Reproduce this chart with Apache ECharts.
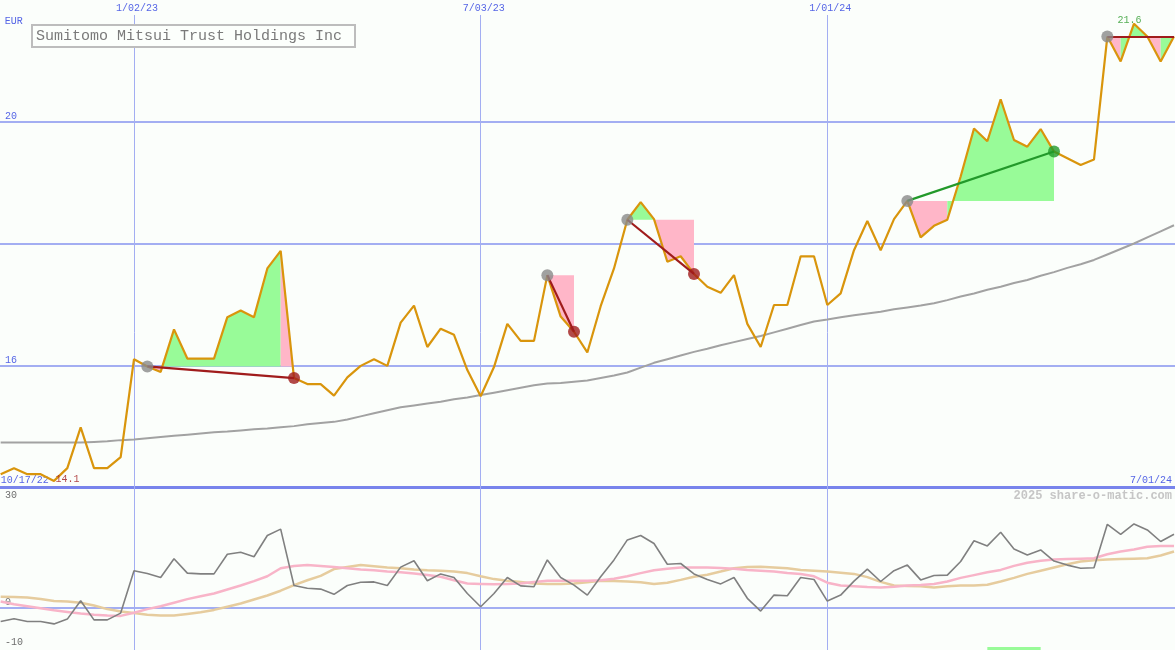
<!DOCTYPE html>
<html><head><meta charset="utf-8">
<script src="https://cdn.jsdelivr.net/npm/echarts@6/dist/echarts.min.js"></script>
<style>html,body{margin:0;padding:0;background:#fbfefb}#c{width:1175px;height:650px}</style>
</head><body><div id="c"></div>
<script>
// ---------- data (weekly points, index 0 = first week) ----------
const chartTitle = 'Sumitomo Mitsui Trust Holdings Inc';
const currency = 'EUR';
const watermark = '2025 share-o-matic.com';

const price = [14.21,14.31,14.21,14.21,14.10,14.31,14.98,14.31,14.31,14.49,
 16.10,15.98,15.89,16.59,16.11,16.11,16.11,16.79,16.90,16.79,
 17.59,17.88,15.79,15.69,15.69,15.50,15.80,15.99,16.10,15.99,
 16.70,16.98,16.30,16.60,16.50,15.92,15.49,15.97,16.68,16.40,
 16.40,17.48,16.80,16.55,16.21,16.97,17.59,18.39,18.68,18.40,
 17.70,17.79,17.50,17.29,17.19,17.48,16.68,16.30,16.99,16.99,
 17.79,17.79,16.99,17.18,17.89,18.37,17.89,18.40,18.70,18.10,
 18.29,18.39,19.10,19.89,19.68,20.37,19.70,19.59,19.88,19.51,
 19.40,19.29,19.38,21.40,20.99,21.61,21.40,20.99,21.40];

const priceMA = [14.73,14.73,14.73,14.73,14.73,14.73,14.73,14.74,14.75,14.77,
 14.78,14.80,14.82,14.84,14.86,14.88,14.90,14.91,14.93,14.95,
 14.96,14.98,15.00,15.03,15.05,15.07,15.11,15.16,15.21,15.26,
 15.31,15.34,15.37,15.40,15.44,15.47,15.51,15.55,15.59,15.63,
 15.67,15.70,15.71,15.73,15.75,15.79,15.83,15.88,15.96,16.04,
 16.10,16.16,16.22,16.27,16.33,16.38,16.43,16.48,16.54,16.60,
 16.66,16.72,16.75,16.79,16.82,16.85,16.88,16.92,16.95,16.98,
 17.02,17.07,17.13,17.18,17.24,17.29,17.35,17.40,17.47,17.53,
 17.60,17.66,17.73,17.82,17.91,18.00,18.10,18.20,18.30];

const osc = [-3.5,-2.8,-3.5,-3.5,-4.1,-2.9,1.7,-3.1,-3.1,-1.4,
 9.2,8.5,7.5,12.2,8.6,8.4,8.4,13.3,13.8,12.7,
 18.0,19.6,5.5,4.8,4.6,3.3,5.5,6.3,6.4,5.5,
 10.1,11.7,6.7,8.4,7.5,3.5,0.2,3.5,7.5,5.4,
 5.2,11.9,7.5,5.6,3.1,7.7,11.9,16.9,18.0,16.0,
 10.8,11.0,8.4,7.0,5.9,7.5,2.3,-0.9,3.1,2.95,
 7.5,7.0,1.6,3.1,6.6,9.6,6.5,9.2,10.6,6.9,
 8.0,8.1,11.5,16.7,15.4,18.8,14.6,13.1,14.4,11.6,
 10.6,9.8,9.95,20.8,18.3,20.9,19.4,16.5,18.3];

const oscPink = [1.5,0.8,0.3,-0.2,-0.7,-1.1,-1.5,-1.8,-2.0,-2.1,
 -1.3,-0.4,0.3,1.2,2.1,2.8,3.5,4.5,5.5,6.6,
 7.8,9.8,10.4,10.6,10.4,10.1,9.8,9.5,9.3,9.0,
 8.8,8.5,8.1,7.7,6.8,6.0,5.9,5.8,5.9,6.0,
 6.4,6.7,6.7,6.7,6.7,6.8,7.2,7.8,8.6,9.3,
 9.7,10.0,10.0,10.0,9.9,9.7,9.4,9.2,9.0,8.6,
 8.4,7.8,6.2,5.5,5.3,5.1,5.0,5.2,5.5,5.6,
 5.9,6.5,7.4,8.1,8.8,9.4,10.4,11.2,11.7,12.0,
 12.1,12.2,12.3,13.3,14.0,14.5,15.2,15.4,15.4];

const oscTan = [2.7,2.6,2.5,2.1,1.6,1.5,1.2,0.5,-0.4,-1.0,
 -1.4,-1.8,-2.0,-2.0,-1.6,-1.2,-0.6,0.2,1.0,2.0,
 3.0,4.2,5.6,6.8,7.9,9.6,10.1,10.6,10.3,10.0,
 9.8,9.5,9.3,9.2,9.0,8.6,7.8,7.1,6.7,6.4,
 6.0,5.9,5.9,6.0,6.3,6.7,6.6,6.5,6.3,5.9,
 6.2,6.9,7.7,8.2,9.0,9.8,10.1,10.2,10.0,9.8,
 9.4,9.2,9.0,8.7,8.4,7.6,6.4,5.5,5.4,5.3,
 5.0,5.3,5.5,5.5,5.7,6.5,7.4,8.4,9.2,10.0,
 10.8,11.5,11.8,12.0,12.1,12.2,12.3,13.0,14.0];

// trading signals: start / end week index
const sigStart = [11, 41, 47, 68, 83];
const sigEnd   = [22, 43, 52, 79, 88];

// axis ticks
const topTickIdx = [10, 36, 62];
const topTickLabels = ['1/02/23', '7/03/23', '1/01/24'];
const edgeTickIdx = [0, 88];
const edgeTickLabels = ['10/17/22', '7/01/24'];
const priceGridVals = [16, 18, 20];
const priceLabelVals = [16, 20];
const oscGridVals = [0];
const oscLabelsLow = [0, -10];
const oscLabelsHigh = [30];
const greenBar = [74, 78, -9.9];

// ---------- styling ----------
const FONT = 'Liberation Mono';
const BLUE_TXT = '#5565e6';
const GRID_C = '#a3aef2';
const PALE_GREEN = '#98fb98';
const PINK = '#ffb6c8';
const RED_D = '#a01c1c';
const GREEN_D = '#22992a';
const last = price.length - 1;
const X_MIN = -0.05, X_MAX = last + 0.075;
const P_MIN = 14, P_MAX = 22;
const O_MIN = -10.625, O_MAX = 30;

// shaded runs between price and signal start level (consecutive segments of same colour merged)
const shadeRuns = [];
sigStart.forEach((s, k) => {
  const e = sigEnd[k], lv = price[s];
  let runStart = s, runUp = price[s + 1] >= lv ? 1 : 0;
  for (let i = s; i < e; i++) {
    const up = price[i + 1] >= lv ? 1 : 0;
    if (up !== runUp) { shadeRuns.push([runStart, i, lv, runUp]); runStart = i; runUp = up; }
  }
  shadeRuns.push([runStart, e, lv, runUp]);
});

let iMin = 0, iMax = 0;
price.forEach((v, i) => { if (v < price[iMin]) iMin = i; if (v > price[iMax]) iMax = i; });

const xBase = { type: 'value', min: X_MIN, max: X_MAX, axisTick: { show: false }, splitLine: { show: false } };
const labelFont = { fontFamily: FONT, fontSize: 10 };

const option = {
  animation: false,
  backgroundColor: '#fbfefb',
  title: [
    { text: chartTitle, left: 32, top: 25, padding: [4, 13, 3, 4], borderColor: '#bdbdbd', borderWidth: 2,
      backgroundColor: '#fcfffc',
      textStyle: { fontFamily: FONT, fontSize: 15, fontWeight: 'normal', color: '#7a7a7a' } },
    { text: watermark, right: 3, top: 490, padding: 0,
      textStyle: { fontFamily: FONT, fontSize: 12, fontWeight: 'bold', color: '#c6c6c6' } }
  ],
  grid: [
    { left: 0, right: 0, top: 0, height: 487, outerBoundsMode: 'none' },
    { left: 0, right: 0, top: 487.5, height: 162.5, outerBoundsMode: 'none' },
    { left: 0, right: 0, top: 15, bottom: 0, outerBoundsMode: 'none' }
  ],
  xAxis: [
    Object.assign({}, xBase, { gridIndex: 0, position: 'bottom',
      axisLine: { show: true, lineStyle: { color: '#7884ec', width: 3 } },
      axisLabel: Object.assign({ show: true, inside: true, customValues: [edgeTickIdx[0]], margin: 2,
        align: 'left', verticalAlign: 'bottom', color: BLUE_TXT,
        formatter: () => edgeTickLabels[0] }, labelFont) }),
    Object.assign({}, xBase, { gridIndex: 0, position: 'bottom', axisLine: { show: false },
      axisLabel: Object.assign({ show: true, inside: true, customValues: [edgeTickIdx[1]], margin: 2,
        align: 'right', verticalAlign: 'bottom', color: BLUE_TXT, padding: [0, 2, 0, 0],
        formatter: () => edgeTickLabels[1] }, labelFont) }),
    Object.assign({}, xBase, { gridIndex: 0, position: 'top', axisLine: { show: false },
      axisLabel: Object.assign({ show: true, inside: true, customValues: topTickIdx, margin: 3,
        align: 'center', verticalAlign: 'top', color: BLUE_TXT, padding: [0, 0, 0, 6],
        formatter: (v) => topTickLabels[topTickIdx.indexOf(Math.round(v))] }, labelFont) }),
    Object.assign({}, xBase, { gridIndex: 1, axisLine: { show: false }, axisLabel: { show: false } }),
    Object.assign({}, xBase, { gridIndex: 2, axisLine: { show: false }, axisLabel: { show: false } })
  ],
  yAxis: [
    { type: 'value', gridIndex: 0, min: P_MIN, max: P_MAX, position: 'left',
      axisLine: { show: false }, axisTick: { show: false }, splitLine: { show: false },
      name: currency, nameLocation: 'end', nameGap: -21,
      nameTextStyle: { fontFamily: FONT, fontSize: 10, color: BLUE_TXT, align: 'left', verticalAlign: 'middle', padding: [0, 0, 0, 4] },
      axisLabel: Object.assign({ inside: true, customValues: priceLabelVals, margin: 5, align: 'left',
        verticalAlign: 'bottom', color: BLUE_TXT }, labelFont) },
    { type: 'value', gridIndex: 1, min: O_MIN, max: O_MAX, position: 'left',
      axisLine: { show: false }, axisTick: { show: false }, splitLine: { show: false },
      axisLabel: Object.assign({ inside: true, customValues: oscLabelsLow, margin: 5, align: 'left',
        verticalAlign: 'bottom', color: '#6e6e6e' }, labelFont) },
    { type: 'value', gridIndex: 1, min: O_MIN, max: O_MAX, position: 'left', offset: 0,
      axisLine: { show: false }, axisTick: { show: false }, splitLine: { show: false },
      axisLabel: Object.assign({ inside: true, customValues: oscLabelsHigh, margin: 5, align: 'left',
        verticalAlign: 'top', padding: [3, 0, 0, 0], color: '#6e6e6e' }, labelFont) },
    { type: 'value', gridIndex: 2, min: 0, max: 1, show: false }
  ],
  series: [
    // horizontal grid lines (price panel)
    { type: 'line', xAxisIndex: 0, yAxisIndex: 0, data: [], silent: true, z: 1,
      markLine: { z: 1, silent: true, symbol: 'none', label: { show: false }, animation: false,
        lineStyle: { color: GRID_C, width: 2, type: 'solid' },
        data: priceGridVals.map(v => ({ yAxis: v })) } },
    // horizontal zero line (oscillator panel) + green marker bar
    { type: 'line', xAxisIndex: 3, yAxisIndex: 1, data: [], silent: true, z: 1,
      markLine: { z: 1, silent: true, symbol: 'none', label: { show: false }, animation: false,
        lineStyle: { color: GRID_C, width: 2, type: 'solid' },
        data: oscGridVals.map(v => ({ yAxis: v })) },
      markArea: { z: 1, silent: true, itemStyle: { color: PALE_GREEN },
        data: [[{ xAxis: greenBar[0], yAxis: O_MIN }, { xAxis: greenBar[1], yAxis: greenBar[2] }]] } },
    // vertical date lines across both panels
    { type: 'line', xAxisIndex: 4, yAxisIndex: 3, data: [], silent: true, z: 1,
      markLine: { z: 1, silent: true, symbol: 'none', label: { show: false }, animation: false,
        lineStyle: { color: GRID_C, width: 1, type: 'solid' },
        data: topTickIdx.map(v => ({ xAxis: v })) } },
    // shaded signal areas
    { type: 'custom', xAxisIndex: 0, yAxisIndex: 0, z: 2, silent: true,
      data: shadeRuns, encode: { x: [0, 1], y: 2 },
      renderItem: (params, api) => {
        const a = api.value(0), b = api.value(1), lv = api.value(2), up = api.value(3);
        const pts = [api.coord([a, lv])];
        for (let j = a; j <= b; j++) pts.push(api.coord([j, price[j]]));
        pts.push(api.coord([b, lv]));
        return { type: 'polygon', shape: { points: pts },
          style: { fill: up ? PALE_GREEN : PINK, stroke: null } };
      } },
    // moving average
    { type: 'line', xAxisIndex: 0, yAxisIndex: 0, z: 3, symbol: 'none', silent: true,
      data: priceMA.map((v, i) => [i, v]), lineStyle: { color: '#a2a2a2', width: 2 } },
    // price
    { type: 'line', xAxisIndex: 0, yAxisIndex: 0, z: 5, symbol: 'none', silent: true,
      data: price.map((v, i) => [i, v]), lineStyle: { color: '#d9950c', width: 2.2 } },
    // signal lines
    { type: 'lines', coordinateSystem: 'cartesian2d', xAxisIndex: 0, yAxisIndex: 0, z: 6, silent: true,
      lineStyle: { width: 2, opacity: 1 },
      data: sigStart.map((s, k) => {
        const e = sigEnd[k];
        return { coords: [[s, price[s]], [e, price[e]]],
          lineStyle: { color: price[e] > price[s] ? GREEN_D : RED_D, width: 2.2 } };
      }) },
    // start dots
    { type: 'scatter', xAxisIndex: 0, yAxisIndex: 0, z: 7, silent: true, symbolSize: 12,
      itemStyle: { color: '#8a8a8a' }, data: sigStart.map(s => [s, price[s]]) },
    // end dots (closed signals only)
    { type: 'scatter', xAxisIndex: 0, yAxisIndex: 0, z: 7, silent: true, symbolSize: 12,
      data: sigStart.map((s, k) => ({ s, e: sigEnd[k] })).filter(o => o.e < last)
        .map(o => ({ value: [o.e, price[o.e]], itemStyle: { color: price[o.e] > price[o.s] ? GREEN_D : RED_D } })) },
    // min / max labels
    { type: 'scatter', xAxisIndex: 0, yAxisIndex: 0, z: 8, silent: true, symbolSize: 1,
      itemStyle: { color: 'rgba(0,0,0,0)' },
      data: [
        { value: [iMin, price[iMin]], label: { show: true, position: [0, 0], align: 'left', verticalAlign: 'middle',
          offset: [2, -1], color: RED_D, fontFamily: FONT, fontSize: 10, formatter: price[iMin].toFixed(1) } },
        { value: [iMax, price[iMax]], label: { show: true, position: [0, 0], align: 'center', verticalAlign: 'bottom',
          offset: [-4, 2], color: '#2a9a2a', fontFamily: FONT, fontSize: 10, formatter: price[iMax].toFixed(1) } }
      ] },
    // oscillator panel
    { type: 'line', xAxisIndex: 3, yAxisIndex: 1, z: 3, symbol: 'none', silent: true,
      data: oscTan.map((v, i) => [i, v]), lineStyle: { color: '#e6cc9e', width: 2.5 } },
    { type: 'line', xAxisIndex: 3, yAxisIndex: 1, z: 4, symbol: 'none', silent: true,
      data: oscPink.map((v, i) => [i, v]), lineStyle: { color: '#f8b4c8', width: 2.5 } },
    { type: 'line', xAxisIndex: 3, yAxisIndex: 1, z: 5, symbol: 'none', silent: true,
      data: osc.map((v, i) => [i, v]), lineStyle: { color: '#808080', width: 1.6 } }
  ]
};

const chart = echarts.init(document.getElementById('c'), null, { renderer: 'canvas' });
chart.setOption(option);
</script>
</body></html>
